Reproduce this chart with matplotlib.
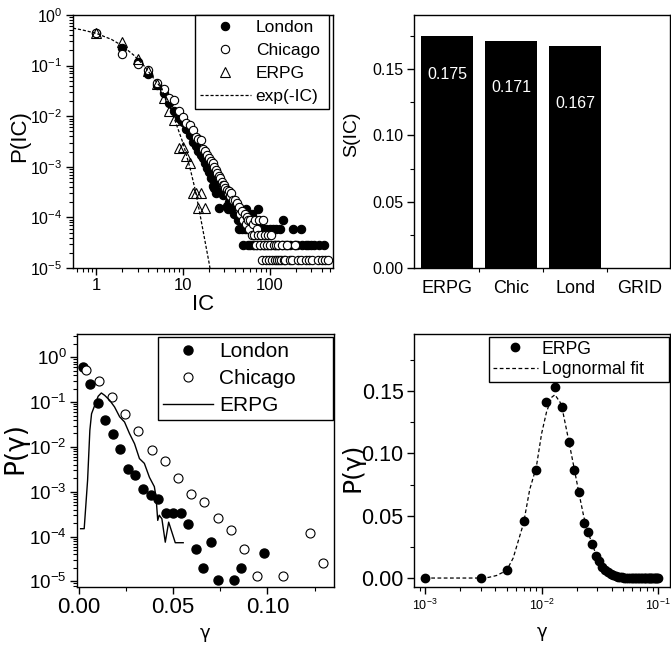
import numpy as np
import matplotlib
matplotlib.use('Agg')
import matplotlib.pyplot as plt
from matplotlib.ticker import LogLocator, MultipleLocator, FixedLocator, NullFormatter, FuncFormatter

plt.rcParams['font.family'] = ['Liberation Sans', 'DejaVu Sans']
plt.rcParams['mathtext.fontset'] = 'custom'
plt.rcParams['mathtext.rm'] = 'Liberation Sans'
plt.rcParams['mathtext.it'] = 'Liberation Sans:italic'
plt.rcParams['mathtext.bf'] = 'Liberation Sans:bold'
plt.rcParams['axes.linewidth'] = 1.0

# ---- panel a: P(IC) ----
london_ic = [1, 2, 3, 4, 5, 6, 7, 8, 9, 10, 11, 12, 13, 14, 15, 16, 17, 18, 19, 20,
             21, 22, 23, 24, 25, 26, 27, 28, 29, 30, 31, 32, 33, 34, 35, 36, 37, 38, 39, 40,
             41, 42, 43, 44, 45, 46, 47, 48, 49, 50, 51, 52, 53, 55, 56, 57, 58, 60, 61, 62,
             64, 65, 67, 68, 70, 72, 74, 75, 78, 80, 83, 85, 88, 92, 95, 100, 104, 110, 115, 120,
             125, 132, 140, 144, 150, 160, 170, 188, 195, 210, 230, 240, 260, 280, 300, 330, 370, 430]
london_p = [0.45, 0.22, 0.12, 0.067, 0.042, 0.029, 0.018, 0.0125, 0.0091, 0.0078, 0.0055, 0.0043,
            0.0031, 0.0026, 0.0021, 0.0017, 0.0015, 0.0012, 0.00093, 0.0008, 0.0006, 0.00041,
            0.00038, 0.0003, 0.0005, 0.00015, 0.00035, 0.00044, 0.00028, 0.00032, 0.00029, 0.00017,
            0.000145, 0.0002, 0.00023, 0.00017, 0.000145, 0.0002, 0.000116, 0.000174, 0.000116,
            0.000145, 8.7e-5, 0.000116, 5.8e-5, 0.000145, 8.7e-5, 5.8e-5, 0.000116, 2.9e-5, 8.7e-5,
            5.8e-5, 0.000145, 5.8e-5, 2.9e-5, 8.7e-5, 5.8e-5, 2.9e-5, 5.8e-5, 0.000116, 2.9e-5,
            5.8e-5, 2.9e-5, 5.8e-5, 8.7e-5, 2.9e-5, 0.000145, 5.8e-5, 2.9e-5, 5.8e-5, 2.9e-5,
            5.8e-5, 2.9e-5, 5.8e-5, 2.9e-5, 5.8e-5, 2.9e-5, 5.8e-5, 2.9e-5, 5.8e-5, 2.9e-5, 5.8e-5,
            2.9e-5, 8.7e-5, 2.9e-5, 2.9e-5, 2.9e-5, 5.8e-5, 2.9e-5, 2.9e-5, 5.8e-5, 2.9e-5, 2.9e-5,
            2.9e-5, 2.9e-5, 2.9e-5, 2.9e-5, 2.9e-5]

chicago_ic = [1, 2, 3, 4, 5, 6, 7, 8, 9, 10, 11, 12, 13, 14, 15, 16, 17, 18, 19, 20,
              21, 22, 23, 24, 25, 26, 27, 28, 29, 30, 31, 32, 33, 34, 35, 36, 38, 40, 42, 44,
              45, 46, 48, 50, 52, 54, 55, 57, 58, 60, 62, 64, 66, 68, 70, 72, 74, 76, 78, 80,
              82, 84, 86, 88, 90, 93, 96, 99, 102, 105, 108, 112, 115, 118, 122, 126, 130, 135, 140, 145,
              152, 160, 170, 180, 195, 215, 230, 260, 285, 310, 360, 400, 440, 475]
chicago_p = [0.45, 0.167, 0.106, 0.082, 0.046, 0.034, 0.023, 0.021, 0.0125, 0.0098, 0.0075, 0.0067,
             0.0053, 0.0039, 0.0036, 0.0034, 0.0023, 0.0021, 0.0017, 0.0015, 0.0013, 0.0012,
             0.00098, 0.00085, 0.00075, 0.00065, 0.00059, 0.0005, 0.00044, 0.00044, 0.00038,
             0.00035, 0.0003, 0.00033, 0.00026, 0.0003, 0.00022, 0.00022, 0.00019, 0.000146,
             0.00016, 0.000117, 0.000131, 8.8e-5, 0.000117, 7.3e-5, 0.000102, 8.8e-5, 5.8e-5, 8.8e-5,
             4.4e-5, 7.3e-5, 4.4e-5, 8.8e-5, 2.9e-5, 5.8e-5, 4.4e-5, 8.8e-5, 2.9e-5, 4.4e-5,
             1.46e-5, 8.8e-5, 2.9e-5, 4.4e-5, 1.46e-5, 2.9e-5, 4.4e-5, 1.46e-5, 2.9e-5, 4.4e-5,
             1.46e-5, 2.9e-5, 1.46e-5, 2.9e-5, 1.46e-5, 2.9e-5, 1.46e-5, 1.46e-5, 2.9e-5, 1.46e-5,
             1.46e-5, 2.9e-5, 1.46e-5, 1.46e-5, 2.9e-5, 1.46e-5, 1.46e-5, 1.46e-5, 1.46e-5,
             1.46e-5, 1.46e-5, 1.46e-5, 1.46e-5, 1.46e-5]

erpg_ic = [1, 2, 3, 4, 5, 6, 7, 8, 9, 10, 11, 12, 13, 14, 15, 16, 18]
erpg_p = [0.45, 0.29, 0.135, 0.078, 0.043, 0.0226, 0.0128, 0.0084, 0.0024, 0.0025, 0.0016,
          0.0012, 0.00031, 0.00031, 0.00015, 0.00031, 0.00015]

exp_ic = [0.54, 0.7, 1, 1.5, 2, 2.7, 3.5, 4.6, 5.5, 6.5, 8, 10, 12, 14, 16, 18, 20, 21]
exp_p = [0.55, 0.505, 0.435, 0.33, 0.247, 0.162, 0.103, 0.056, 0.038, 0.021, 0.0088, 0.003,
         0.001, 0.00033, 0.0001, 3.4e-5, 1.3e-5, 8e-6]

# ---- panel b: S(IC) ----
net_names = ['ERPG', 'Chic', 'Lond', 'GRID']
s_ic = [0.175, 0.171, 0.167, 0.0]
label_drop = [0.029, 0.035, 0.043]

# ---- panel c: P(gamma) ----
lon_g = [0.002, 0.006, 0.010, 0.014, 0.018, 0.022, 0.026, 0.030, 0.034, 0.038, 0.042, 0.046,
         0.050, 0.054, 0.058, 0.062, 0.066, 0.070, 0.074, 0.082, 0.086, 0.098]
lon_pg = [0.62, 0.25, 0.095, 0.039, 0.019, 0.0089, 0.0033, 0.0024, 0.00117, 0.00085, 0.0007,
          0.00034, 0.00034, 0.00034, 0.000195, 5.2e-5, 2.0e-5, 7.4e-5, 1.07e-5, 1.07e-5, 2.0e-5, 4.2e-5]
chi_g = [0.0035, 0.0105, 0.0175, 0.0245, 0.0315, 0.0385, 0.0455, 0.0525, 0.0595, 0.0665,
         0.0735, 0.0805, 0.0875, 0.0945, 0.1085, 0.1225, 0.1295]
chi_pg = [0.52, 0.30, 0.13, 0.055, 0.0223, 0.0087, 0.0048, 0.0020, 0.00091, 0.00058, 0.00026,
          0.00014, 5.2e-5, 1.3e-5, 1.3e-5, 0.000118, 2.6e-5]
erpg_g = [0.0009, 0.0028, 0.0046, 0.0058, 0.0067, 0.0084, 0.0102, 0.0119, 0.0137, 0.0163,
          0.0189, 0.0216, 0.0242, 0.0268, 0.0295, 0.0321, 0.0347, 0.0374, 0.040, 0.0409,
          0.0418, 0.0426, 0.044, 0.0458, 0.0476, 0.0493, 0.0511, 0.0553]
erpg_pg = [1.5e-4, 1.5e-4, 1.8e-3, 0.0235, 0.055, 0.085, 0.135, 0.16, 0.141, 0.11, 0.078,
           0.047, 0.036, 0.020, 0.0118, 0.0055, 0.0043, 0.0021, 0.0013, 7.6e-4, 2.3e-4,
           3.0e-4, 2.5e-4, 7.5e-5, 2.1e-4, 1.26e-4, 7.3e-5, 7.3e-5]

# ---- panel d: ERPG P(gamma) linear, lognormal fit ----
d_g = [0.001, 0.003, 0.005, 0.007, 0.009, 0.011, 0.013, 0.015, 0.017, 0.019, 0.021, 0.023,
       0.025, 0.027, 0.029, 0.031, 0.033, 0.035, 0.037, 0.039, 0.041, 0.043, 0.045, 0.047,
       0.049, 0.051, 0.053, 0.055, 0.057, 0.059, 0.061, 0.063, 0.065, 0.067, 0.069, 0.071,
       0.073, 0.075, 0.077, 0.079, 0.081, 0.083, 0.085, 0.087, 0.089, 0.091, 0.093, 0.095,
       0.097, 0.099]
d_p = [0.0, 0.0, 0.0067, 0.046, 0.087, 0.141, 0.153, 0.137, 0.109, 0.087, 0.069, 0.044,
       0.037, 0.027, 0.018, 0.014, 0.0085, 0.0065, 0.005, 0.0035, 0.0025, 0.0018, 0.0012,
       0.0008, 0.0005, 0.0004, 0.0003, 0.0003, 0.0002, 0.0002, 0.0002, 0.0001, 0.0001, 0.0001,
       0.0001, 0.0001, 0.0, 0.0, 0.0, 0.0, 0.0, 0.0, 0.0, 0.0, 0.0, 0.0, 0.0, 0.0, 0.0, 0.0]
fit_g = [0.001, 0.003, 0.0035, 0.0041, 0.005, 0.0057, 0.007, 0.0079, 0.009, 0.010, 0.011,
         0.0122, 0.013, 0.0144, 0.015, 0.017, 0.019, 0.021, 0.023, 0.025, 0.027, 0.029, 0.033,
         0.0386, 0.050, 0.1]
fit_p = [0.0, 0.0, 0.0005, 0.002, 0.006, 0.016, 0.044, 0.071, 0.089, 0.116, 0.133, 0.145,
         0.147, 0.141, 0.136, 0.111, 0.088, 0.067, 0.049, 0.037, 0.0275, 0.020, 0.010, 0.0045,
         0.0013, 0.0]

fig = plt.figure(figsize=(6.71, 6.45), dpi=100)
ax1 = fig.add_axes([0.1088, 0.5845, 0.3875, 0.3922])
ax2 = fig.add_axes([0.617, 0.5845, 0.3815, 0.3922])
ax3 = fig.add_axes([0.1148, 0.0899, 0.383, 0.3922])
ax4 = fig.add_axes([0.617, 0.0899, 0.3815, 0.3922])

greek = ['DejaVu Sans']


def style_ticks(ax, size, major=5, minor=3):
    ax.tick_params(which='major', direction='out', length=major, width=1, labelsize=size,
                   top=False, right=False, pad=2.5)
    ax.tick_params(which='minor', direction='out', length=minor, width=0.8,
                   top=False, right=False)


def make_legend(ax, size, box, **kw):
    leg = ax.legend(fontsize=size, frameon=True, fancybox=False, framealpha=1,
                    loc='upper left', bbox_to_anchor=box, mode='expand', borderaxespad=0, **kw)
    leg.get_frame().set_edgecolor('black')
    leg.get_frame().set_linewidth(1.0)
    return leg


def sci(v, pos):
    return r'$\mathdefault{10^{%d}}$' % int(round(np.log10(v)))


# panel a
ax1.set_xscale('log')
ax1.set_yscale('log')
ax1.plot(london_ic, london_p, 'o', ms=6, mfc='black', mec='black', mew=0.8, ls='none', label='London')
ax1.plot(chicago_ic, chicago_p, 'o', ms=6, mfc='white', mec='black', mew=0.8, ls='none', label='Chicago')
ax1.plot(erpg_ic, erpg_p, '^', ms=6.5, mfc='none', mec='black', mew=0.8, ls='none', label='ERPG')
ax1.plot(exp_ic, exp_p, '--', color='black', lw=0.9, dashes=(2.5, 1.5), label='exp(-IC)')
ax1.set_xlim(0.54, 540)
ax1.set_ylim(1e-5, 1)
ax1.xaxis.set_major_formatter(FuncFormatter(lambda v, p: '%g' % v))
ax1.xaxis.set_minor_formatter(NullFormatter())
ax1.yaxis.set_major_locator(LogLocator(base=10, numticks=10))
ax1.yaxis.set_major_formatter(FuncFormatter(sci))
ax1.yaxis.set_minor_locator(LogLocator(base=10, subs=np.arange(2, 10), numticks=20))
ax1.yaxis.set_minor_formatter(NullFormatter())
style_ticks(ax1, 11.5)
ax1.tick_params(axis='x', which='major', labelsize=12)
ax1.set_xlabel('IC', fontsize=16, va='center')
ax1.xaxis.set_label_coords(0.5, -0.146)
ax1.set_ylabel('P(IC)', fontsize=16, va='center')
ax1.yaxis.set_label_coords(-0.205, 0.52)
make_legend(ax1, 12.5, (0.469, 0.625, 0.516, 0.375),
            handlelength=2.9, handletextpad=0.3, labelspacing=0.45, borderpad=0.3)

# panel b
xpos = np.arange(len(net_names))
bars = ax2.bar(xpos, s_ic, width=0.81, color='black', edgecolor='black', linewidth=0)
for b, v, d in zip(bars, s_ic[:3], label_drop):
    ax2.text(b.get_x() + b.get_width() / 2, v - d, '%.3f' % v, color='white',
             ha='center', va='center', fontsize=11.5)
ax2.set_xlim(-0.52, 3.48)
ax2.set_ylim(0, 0.1907)
ax2.set_xticks(xpos)
ax2.set_xticklabels(net_names)
ax2.xaxis.set_minor_locator(FixedLocator([0.5, 1.5, 2.5]))
ax2.yaxis.set_major_locator(MultipleLocator(0.05))
ax2.yaxis.set_minor_locator(MultipleLocator(0.025))
ax2.yaxis.set_major_formatter(FuncFormatter(lambda v, p: '%.2f' % v))
style_ticks(ax2, 11.5)
ax2.tick_params(axis='x', which='major', length=0, labelsize=13, pad=9)
ax2.tick_params(axis='x', which='minor', length=3)
ax2.set_ylabel('S(IC)', fontsize=14, va='center')
ax2.yaxis.set_label_coords(-0.242, 0.53)

# panel c
ax3.set_yscale('log')
ax3.plot(lon_g, lon_pg, 'o', ms=6.5, mfc='black', mec='black', ls='none', label='London')
ax3.plot(chi_g, chi_pg, 'o', ms=6.5, mfc='white', mec='black', mew=0.8, ls='none', label='Chicago')
ax3.plot(erpg_g, erpg_pg, '-', color='black', lw=1.0, label='ERPG')
ax3.set_xlim(-0.001, 0.1353)
ax3.set_ylim(7.5e-6, 3.3)
ax3.xaxis.set_major_locator(MultipleLocator(0.05))
ax3.xaxis.set_minor_locator(MultipleLocator(0.025))
ax3.xaxis.set_major_formatter(FuncFormatter(lambda v, p: '%.2f' % v))
ax3.yaxis.set_major_locator(LogLocator(base=10, numticks=10))
ax3.yaxis.set_major_formatter(FuncFormatter(sci))
ax3.yaxis.set_minor_locator(LogLocator(base=10, subs=np.arange(2, 10), numticks=20))
ax3.yaxis.set_minor_formatter(NullFormatter())
style_ticks(ax3, 13.5)
ax3.tick_params(axis='x', which='major', labelsize=16)
ax3.set_xlabel('\u03b3', fontsize=13, va='center', family=greek)
ax3.xaxis.set_label_coords(0.5, -0.182)
ax3.set_ylabel('P(\u03b3)', fontsize=19, va='center', family=greek)
ax3.yaxis.set_label_coords(-0.24, 0.55)
make_legend(ax3, 15, (0.315, 0.66, 0.681, 0.328),
            handlelength=2.4, handletextpad=0.3, labelspacing=0.38, borderpad=0.25)

# panel d
ax4.set_xscale('log')
ax4.plot(d_g, d_p, 'o', ms=6, mfc='black', mec='black', ls='none', label='ERPG')
ax4.plot(fit_g, fit_p, '--', color='black', lw=0.9, dashes=(3, 2), label='Lognormal fit')
ax4.set_xlim(8.05e-4, 0.126)
ax4.set_ylim(-0.0072, 0.1957)
ax4.yaxis.set_major_locator(MultipleLocator(0.05))
ax4.yaxis.set_minor_locator(MultipleLocator(0.025))
ax4.yaxis.set_major_formatter(FuncFormatter(lambda v, p: '%.2f' % v))
ax4.xaxis.set_major_locator(LogLocator(base=10, numticks=10))
ax4.xaxis.set_major_formatter(FuncFormatter(sci))
ax4.xaxis.set_minor_locator(LogLocator(base=10, subs=np.arange(2, 10), numticks=20))
ax4.xaxis.set_minor_formatter(NullFormatter())
style_ticks(ax4, 15.5)
ax4.tick_params(axis='x', which='major', labelsize=9)
ax4.set_xlabel('\u03b3', fontsize=13, va='center', family=greek)
ax4.xaxis.set_label_coords(0.5, -0.178)
ax4.set_ylabel('P(\u03b3)', fontsize=18, va='center', family=greek)
ax4.yaxis.set_label_coords(-0.242, 0.474)
make_legend(ax4, 12.7, (0.293, 0.81, 0.703, 0.178),
            handlelength=2.6, handletextpad=0.2, labelspacing=0.2, borderpad=0.2)

fig.savefig('out.png', dpi=100)
